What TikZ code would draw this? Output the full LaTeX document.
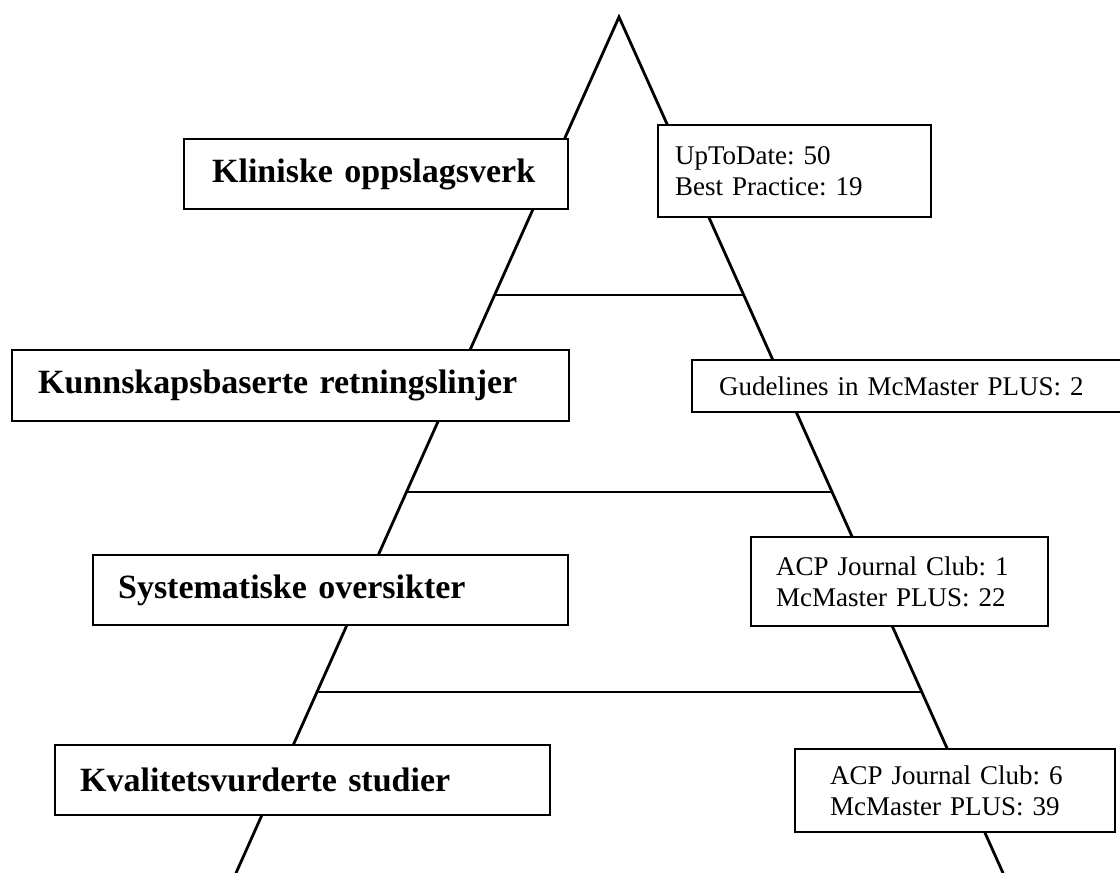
\documentclass[tikz,border=0pt]{standalone}
\usepackage{fontspec}
\setmainfont{Liberation Serif}
\frenchspacing
\usetikzlibrary{calc}
\tikzset{
  edge/.style={line width=2.8pt, line cap=round},
  tier/.style={line width=2.8pt},
  boxbase/.style={draw, line width=2.2pt, fill=white, anchor=west, align=left, inner ysep=0pt},
  lbl/.style={boxbase, font=\fontsize{34}{40}\selectfont\bfseries},
  info/.style={boxbase, font=\fontsize{27}{31}\selectfont},
}
\newcommand{\mybox}[8]{% style, name, x1, y1, x2, y2, textstart, text
  \node[#1, inner xsep={(#7)-(#3)}, text width={(#5)-(#3)-2*((#7)-(#3))},
        minimum height={(#6)-(#4)}] (#2) at (#3, {((#4)+(#6))/2}) {#8};}
\begin{document}
\begin{tikzpicture}[x=1pt,y=-1pt]
\useasboundingbox (0,0) rectangle (1120,873);
\coordinate (apex) at (619,17);
\coordinate (bl) at (236,873);
\coordinate (br) at (1003,873);
\draw[edge] (bl) -- (apex) -- (br);
\coordinate (l1) at ($(apex)!0.3248!(bl)$);
\coordinate (r1) at ($(apex)!0.3248!(br)$);
\coordinate (l2) at ($(apex)!0.5549!(bl)$);
\coordinate (r2) at ($(apex)!0.5549!(br)$);
\coordinate (l3) at ($(apex)!0.7886!(bl)$);
\coordinate (r3) at ($(apex)!0.7886!(br)$);
\draw[tier] (l1) -- (r1);
\draw[tier] (l2) -- (r2);
\draw[tier] (l3) -- (r3);
\mybox{lbl}{k1}{183}{139}{567}{209}{211}{Kliniske oppslagsverk}
\mybox{info}{i1}{657}{125}{930}{217}{674}{UpToDate: 50\\Best Practice: 19}
\mybox{lbl}{k2}{11}{350}{568}{421}{37}{Kunnskapsbaserte retningslinjer}
\mybox{info}{i2}{691}{360}{1130}{412}{718}{Gudelines in McMaster PLUS: 2}
\mybox{lbl}{k3}{92}{555}{567}{625}{117}{Systematiske oversikter}
\mybox{info}{i3}{750}{537}{1047}{626}{775}{ACP Journal Club: 1\\McMaster PLUS: 22}
\mybox{lbl}{k4}{54}{745}{549}{815}{79}{Kvalitetsvurderte studier}
\mybox{info}{i4}{794}{749}{1114}{832}{829}{ACP Journal Club: 6\\McMaster PLUS: 39}
\end{tikzpicture}
\end{document}
